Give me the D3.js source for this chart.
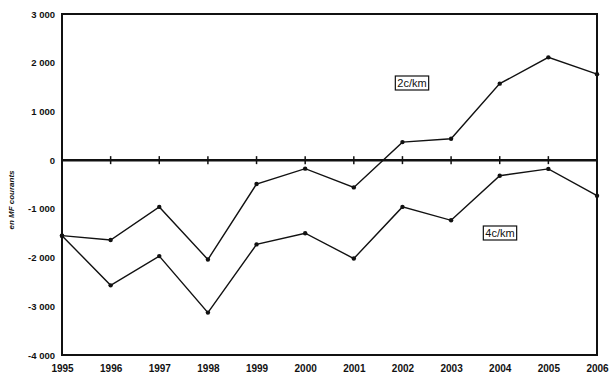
<!DOCTYPE html>
<html>
<head>
<meta charset="utf-8">
<script src="https://cdn.jsdelivr.net/npm/d3@7"></script>
<style>
  body { margin: 0; background: #fff; }
  text { font-family: "Liberation Sans", Arial, sans-serif; }
</style>
</head>
<body>
<div id="chart"></div>
<script>
(function(){

    var years = [1995, 1996, 1997, 1998, 1999, 2000, 2001, 2002, 2003, 2004, 2005, 2006];
    var serie2c = [-1550, -1640, -960, -2040, -490, -175, -560, 370, 440, 1570, 2110, 1765];
    var serie4c = [-1550, -2570, -1970, -3130, -1730, -1500, -2020, -960, -1235, -320, -180, -730];
    var yTicks = [3000, 2000, 1000, 0, -1000, -2000, -3000, -4000];
    var yLabel = "en MF courants";

    var width = 610, height = 387;
    var margin = {top: 14, right: 13, bottom: 32, left: 62};

    var svg = d3.select("#chart").append("svg")
        .attr("width", width).attr("height", height);

    var x = d3.scaleLinear().domain([1995, 2006]).range([margin.left, width - margin.right]);
    var y = d3.scaleLinear().domain([-4000, 3000]).range([height - margin.bottom, margin.top]);

    function fmt(d){
        var s = d3.format(",")(Math.abs(d)).replace(/,/g, " ");
        return (d < 0 ? "-" : "") + s;
    }

    // frame
    svg.append("path")
        .attr("d", "M" + x(1995) + "," + y(3000) + "H" + x(2006) + "V" + y(-4000) + "H" + x(1995) + "Z")
        .attr("fill", "none").attr("stroke", "#111").attr("stroke-width", 2);

    // y axis labels
    svg.append("g")
        .attr("transform", "translate(" + x(1995) + ",0)")
        .call(d3.axisLeft(y).tickValues(yTicks).tickSize(0).tickPadding(7).tickFormat(fmt))
        .call(function(g){ g.select(".domain").remove(); })
        .selectAll("text")
        .attr("font-size", 9.5).attr("font-weight", "bold").attr("fill", "#111");

    // x axis labels
    svg.append("g")
        .attr("transform", "translate(0," + y(-4000) + ")")
        .call(d3.axisBottom(x).tickValues(years).tickSize(0).tickPadding(10).tickFormat(d3.format("d")))
        .call(function(g){ g.select(".domain").remove(); })
        .selectAll("text")
        .attr("font-size", 10).attr("font-weight", "bold").attr("fill", "#111");

    // zero line with crosses
    svg.append("line")
        .attr("x1", x(1995)).attr("x2", x(2006))
        .attr("y1", y(0)).attr("y2", y(0))
        .attr("stroke", "#111").attr("stroke-width", 2.5);
    svg.selectAll(".zt").data(years).enter().append("line")
        .attr("x1", function(d){ return x(d); }).attr("x2", function(d){ return x(d); })
        .attr("y1", y(0) - 4).attr("y2", y(0) + 4)
        .attr("stroke", "#111").attr("stroke-width", 1.5);

    var line = d3.line()
        .x(function(d, i){ return x(years[i]); })
        .y(function(d){ return y(d); });

    [serie2c, serie4c].forEach(function(s){
        svg.append("path").datum(s)
            .attr("d", line)
            .attr("fill", "none").attr("stroke", "#111").attr("stroke-width", 1.4);
        svg.selectAll(null).data(s).enter().append("circle")
            .attr("cx", function(d, i){ return x(years[i]); })
            .attr("cy", function(d){ return y(d); })
            .attr("r", 2.2).attr("fill", "#111");
    });

    function drawLabel(cx, cy, txt){
        var g = svg.append("g");
        var box = g.append("rect");
        var t = g.append("text")
            .attr("x", cx).attr("y", cy + 4)
            .attr("text-anchor", "middle")
            .attr("font-size", 11).attr("fill", "#111")
            .text(txt);
        var b = t.node().getBBox();
        box.attr("x", b.x - 2).attr("y", b.y - 1)
            .attr("width", b.width + 4).attr("height", b.height + 2)
            .attr("fill", "#fff").attr("stroke", "#111").attr("stroke-width", 1.2);
    }
    drawLabel(412, 83, "2c/km");
    drawLabel(500, 233, "4c/km");

    svg.append("text")
        .attr("transform", "translate(14,200) rotate(-90)")
        .attr("text-anchor", "middle")
        .attr("font-size", 8).attr("font-style", "italic").attr("font-weight", "bold")
        .attr("fill", "#111")
        .text(yLabel);

})();
</script>
</body>
</html>
